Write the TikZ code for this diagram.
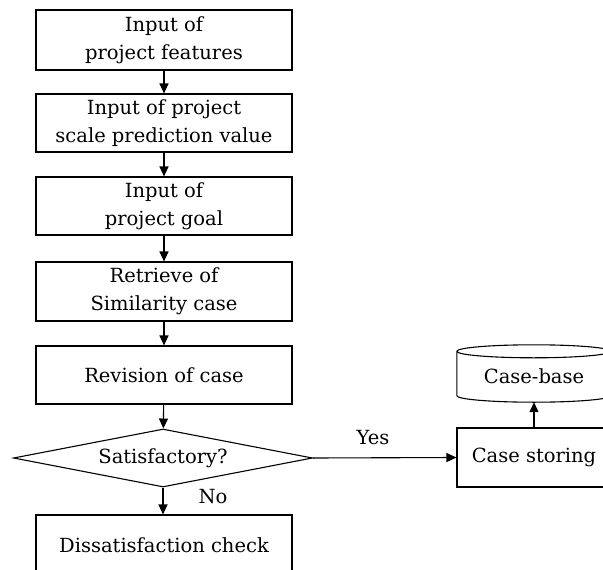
\documentclass[tikz,border=0pt]{standalone}
\usepackage{fontspec}
\setmainfont{DejaVu Serif}
\usetikzlibrary{shapes.geometric,arrows.meta}
\begin{document}
\begin{tikzpicture}[x=1pt,y=-1pt,
  txt/.style={font=\fontsize{19.5}{28}\selectfont},
  box/.style={draw, line width=1.1pt, minimum width=256pt, align=center, inner sep=0pt, txt},
  decision/.style={draw, line width=1.1pt, diamond, shape aspect=5.16, minimum width=299pt, minimum height=58pt, inner sep=0pt, txt},
  arr/.style={-{Triangle[length=10pt,width=9pt]}, line width=1.1pt},
  lbl/.style={txt}]
\useasboundingbox (0,0) rectangle (603,570);
\clip (0,0) rectangle (603,570);

% main column
\node[box, minimum height=60pt] (feat) at (164,40) {Input of\\project features};
\node[box, minimum height=58pt] (scale) at (164,123) {Input of project\\scale prediction value};
\node[box, minimum height=58pt] (goal) at (164,206) {Input of\\project goal};
\node[box, minimum height=59pt] (retr) at (164,291.5) {Retrieve of\\Similarity case};
\node[box, minimum height=58pt] (rev) at (164,375) {Revision of case};
\node[decision] (sat) at (163,458) {Satisfactory?};
\node[box, minimum height=60pt] (dis) at (164,545) {Dissatisfaction check};

% storing branch
\node[box, minimum width=154pt, minimum height=59pt] (store) at (534,457.5) {Case storing};
\node[txt, minimum width=154pt, minimum height=57pt, inner sep=0pt] (cb) at (534,373.5) {};
\draw[line width=1.1pt] (cb.north west) ++(0,6.5) arc[start angle=180, end angle=-180, x radius=77pt, y radius=6.5pt];
\draw[line width=1.1pt] (cb.north west) ++(0,6.5) -- ([yshift=6.5pt]cb.south west)
  arc[start angle=180, end angle=360, x radius=77pt, y radius=6.5pt] -- ([yshift=-6.5pt]cb.north east);
\node[txt] at ([yshift=-3pt]cb.center) {Case-base};

% connectors
\draw[arr] (feat) -- (scale);
\draw[arr] (scale) -- (goal);
\draw[arr] (goal) -- (retr);
\draw[arr] (retr) -- (rev);
\draw[arr] (rev) -- (sat);
\draw[arr] (sat.south) -- (sat.south |- dis.north);
\draw[arr] (sat.east) -- (store.west);
\draw[arr] (store.north) -- (cb.south);

% branch labels
\node[lbl] at (373,438) {Yes};
\node[lbl] at (213,497) {No};
\end{tikzpicture}
\end{document}
